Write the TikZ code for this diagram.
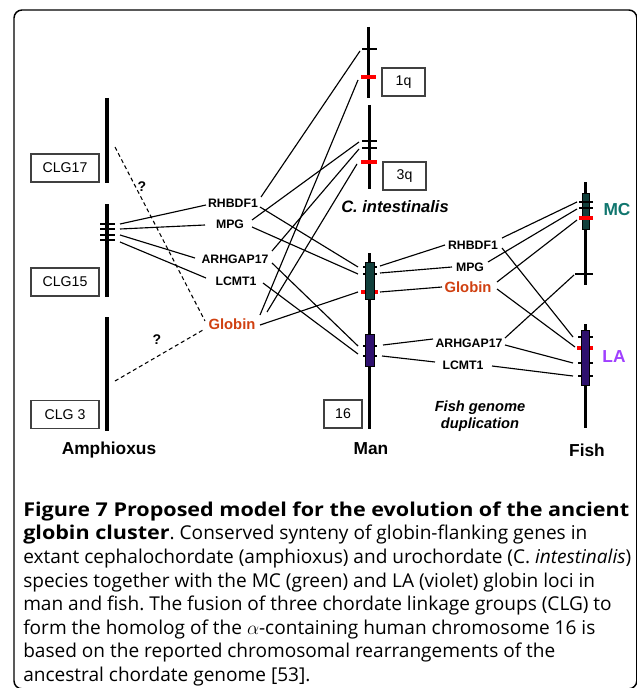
\documentclass[tikz,border=0pt]{standalone}
\usepackage{fontspec}
\setmainfont{Liberation Sans}
\newfontfamily\capfont{Open Sans}[BoldFeatures={FakeStretch=1.13}]
\definecolor{globred}{RGB}{208,64,16}
\definecolor{tickred}{RGB}{255,0,0}
\definecolor{mcbox}{RGB}{17,64,60}
\definecolor{labox}{RGB}{46,16,110}
\definecolor{mctext}{RGB}{16,118,110}
\definecolor{latext}{RGB}{160,64,255}
\frenchspacing
\begin{document}
\begin{tikzpicture}[x=0.75pt,y=-0.75pt,
  conn/.style={line width=0.85pt},
  dashconn/.style={line width=0.8pt, dash pattern=on 3pt off 2.2pt},
  thickchrom/.style={line width=2.6pt},
  chrom/.style={line width=2.25pt},
  blacktick/.style={line width=1.5pt},
  redtick/.style={line width=2.6pt, draw=tickred},
  gene/.style={font=\bfseries\fontsize{9.2}{11}\selectfont, inner sep=0pt},
  globin/.style={font=\bfseries\fontsize{11.1}{13}\selectfont, text=globred, inner sep=0pt},
  biglab/.style={font=\bfseries\fontsize{13}{15}\selectfont, inner sep=0pt},
  idbox/.style={draw=black!75, line width=0.9pt, minimum height=21pt, font=\fontsize{10.6}{12}\selectfont, inner sep=0pt},
  qmark/.style={font=\bfseries\fontsize{10.5}{12}\selectfont, inner sep=0pt},
  capline/.style={anchor=base west, inner sep=0pt, font=\capfont\fontsize{14.3}{17}\selectfont}
]
\useasboundingbox (0,0) rectangle (636,688);
% frame
\draw[line width=1.1pt, rounded corners=6pt] (14,10) rectangle (636.8,688.8);

% ---------------- Amphioxus ----------------
\draw[thickchrom] (107,98) -- (107,183);
\draw[thickchrom] (107,204) -- (107,297);
\draw[thickchrom] (107,317) -- (107,431);
\foreach \yy in {224,229,235,240} \draw[blacktick] (100,\yy) -- (115,\yy);
\node[idbox, minimum width=51pt] (clg17) at (65,168) {CLG17};
\node[idbox, minimum width=51pt] (clg15) at (65,282) {CLG15};
\node[idbox, minimum width=51pt] (clg3) at (65,414.5) {CLG 3};
\node[biglab] (amph) at (109,450) {Amphioxus};

% ---------------- C. intestinalis ----------------
\draw[chrom] (368,27) -- (368,98);
\draw[blacktick] (362,49) -- (377,49);
\draw[redtick] (361,77) -- (376,77);
\draw[chrom] (369,105) -- (369,189);
\draw[blacktick] (362,141) -- (377,141);
\draw[blacktick] (362,148) -- (377,148);
\draw[redtick] (361,162) -- (377,162);
\node[idbox, minimum width=32.25pt] (b1q) at (403.5,82) {1q};
\node[idbox, minimum width=32.25pt] (b3q) at (404.5,176) {3q};
\node[font=\bfseries\itshape\fontsize{12.4}{14}\selectfont, inner sep=0pt] (cint) at (395,207) {C. intestinalis};

% ---------------- Man ----------------
\draw[chrom] (369,253) -- (369,429);
\draw[redtick] (361,292) -- (378,292);
\draw[fill=mcbox, line width=0.75pt] (365,262) rectangle (374,299);
\draw[fill=labox, line width=0.75pt] (365,334) rectangle (374,366);
\draw[blacktick] (374,267) -- (377,267);
\draw[blacktick] (374,274) -- (377,274);
\draw[blacktick] (374,346) -- (377,346);
\draw[blacktick] (374,356) -- (377,356);
\draw[blacktick] (363,267) -- (365,267);
\draw[blacktick] (363,274) -- (365,274);
\draw[blacktick] (363,346) -- (365,346);
\draw[blacktick] (363,356) -- (365,356);
\node[idbox, minimum width=28.5pt] (b16) at (343,414) {16};
\node[biglab] (man) at (371,449) {Man};

% ---------------- Fish ----------------
\draw[chrom] (585,182) -- (585,285);
\draw[fill=mcbox, line width=0.75pt] (582,193) rectangle (589,229);
\draw[blacktick] (579,202) -- (593,202);
\draw[blacktick] (579,208) -- (593,208);
\draw[redtick] (579,218) -- (593,218);
\draw[blacktick] (575,274) -- (593,274);
\draw[chrom] (585,324) -- (585,428);
\draw[redtick] (577,348) -- (593,348);
\draw[fill=labox, line width=0.75pt] (581,330) rectangle (589,385);
\draw[blacktick] (589,337) -- (593,337);
\draw[blacktick] (589,363) -- (593,363);
\draw[blacktick] (589,376) -- (593,376);
\draw[blacktick] (578,337) -- (581,337);
\draw[blacktick] (578,363) -- (581,363);
\draw[blacktick] (578,376) -- (581,376);
\node[biglab, text=mctext] (mc) at (617,210) {MC};
\node[biglab, text=latext] (la) at (614,357) {LA};
\node[biglab] (fish) at (587,450) {Fish};
\node[font=\bfseries\itshape\fontsize{11}{12.75}\selectfont, align=center, inner sep=0pt] (fgd) at (480,416.5) {Fish genome\\duplication};

% ---------------- gene labels ----------------
\node[gene] (rhA) at (233,203) {RHBDF1};
\node[gene] (mpgA) at (230,224) {MPG};
\node[gene] (arhA) at (235,259) {ARHGAP17};
\node[gene] (lcmA) at (236,281) {LCMT1};
\node[globin] (glA) at (232,324) {Globin};
\node[gene] (rhF) at (473,245) {RHBDF1};
\node[gene] (mpgF) at (470,267) {MPG};
\node[globin] (glF) at (468,287) {Globin};
\node[gene] (arhF) at (469,343) {ARHGAP17};
\node[gene] (lcmF) at (463,365) {LCMT1};
\node[qmark] (q1) at (142,187) {?};
\node[qmark] (q2) at (157,340) {?};

% ---------------- connector end points ----------------
\coordinate (a1) at (120,224);
\coordinate (a2) at (120,229);
\coordinate (a3) at (120,235);
\coordinate (a4) at (120,242);
\coordinate (aq1) at (115,147);
\coordinate (aq2) at (115,381);
\coordinate (rhAw) at (206,205);
\coordinate (mpgAw) at (205,225);
\coordinate (arhAw) at (195,258);
\coordinate (lcmAw) at (206,278);
\coordinate (glAnw) at (205,321);
\coordinate (glAsw) at (203,330);
\coordinate (rhAne) at (261,197);
\coordinate (rhAse) at (260,207);
\coordinate (mpgAne) at (252,220);
\coordinate (mpgAse) at (252,227);
\coordinate (arhAne) at (272,251);
\coordinate (arhAse) at (272,263);
\coordinate (lcmAe) at (263,283);
\coordinate (glAne1) at (260,315);
\coordinate (glAne2) at (267,312);
\coordinate (glAe) at (260,325);
\coordinate (q1b) at (360,51);
\coordinate (q1r) at (358,80);
\coordinate (q3b1) at (359,142);
\coordinate (q3b2) at (359,149);
\coordinate (q3r) at (357,164);
\coordinate (m1l) at (358,267);
\coordinate (m2l) at (358,274);
\coordinate (mrl) at (358,292);
\coordinate (mp1l) at (358,346);
\coordinate (mp2l) at (358,354);
\coordinate (m1r) at (380,266);
\coordinate (m2r) at (380,273);
\coordinate (mrr) at (380,292);
\coordinate (mp1r) at (383,345);
\coordinate (mp2r) at (382,356);
\coordinate (rhFw) at (445,245);
\coordinate (mpgFw) at (452,267);
\coordinate (glFw) at (442,287);
\coordinate (arhFw) at (433,339);
\coordinate (lcmFw) at (435,362);
\coordinate (rhFne) at (502,238);
\coordinate (rhFse) at (502,248);
\coordinate (mpgFe) at (488,262);
\coordinate (glFne) at (497,282);
\coordinate (glFse) at (497,289);
\coordinate (arhFne) at (505,338);
\coordinate (arhFse) at (505,345);
\coordinate (lcmFe) at (492,366);
\coordinate (mc1) at (577,202);
\coordinate (mc2) at (577,209);
\coordinate (mcr) at (577,220);
\coordinate (mc3) at (574,275);
\coordinate (la1) at (573,337);
\coordinate (lar) at (575,347);
\coordinate (la3) at (573,363);
\coordinate (la4) at (573,376);

% ---------------- connectors ----------------
\draw[conn] (a1) -- (rhAw);
\draw[conn] (a2) -- (mpgAw);
\draw[conn] (a3) -- (arhAw);
\draw[conn] (a4) -- (lcmAw);
\draw[dashconn] (aq1) -- (glAnw);
\draw[dashconn] (aq2) -- (glAsw);
\draw[conn] (rhAne) -- (q1b);
\draw[conn] (mpgAne) -- (q3b1);
\draw[conn] (arhAne) -- (q3b2);
\draw[conn] (glAne1) -- (q1r);
\draw[conn] (glAne2) -- (q3r);
\draw[conn] (rhAse) -- (m1l);
\draw[conn] (mpgAse) -- (m2l);
\draw[conn] (glAe) -- (mrl);
\draw[conn] (arhAse) -- (mp1l);
\draw[conn] (lcmAe) -- (mp2l);
\draw[conn] (m1r) -- (rhFw);
\draw[conn] (m2r) -- (mpgFw);
\draw[conn] (mrr) -- (glFw);
\draw[conn] (mp1r) -- (arhFw);
\draw[conn] (mp2r) -- (lcmFw);
\draw[conn] (rhFne) -- (mc1);
\draw[conn] (rhFse) -- (la1);
\draw[conn] (mpgFe) -- (mc2);
\draw[conn] (glFne) -- (mcr);
\draw[conn] (glFse) -- (lar);
\draw[conn] (arhFne) -- (mc3);
\draw[conn] (arhFse) -- (la3);
\draw[conn] (lcmFe) -- (la4);

% ---------------- caption ----------------
\node[capline] (c1) at (23,516) {\bfseries Figure 7 Proposed model for the evolution of the ancient};
\node[capline] (c2) at (23,539.5) {\textbf{globin cluster}. Conserved synteny of globin-flanking genes in};
\node[capline] (c3) at (23,563) {extant cephalochordate (amphioxus) and urochordate (C. \textit{intestinalis})};
\node[capline] (c4) at (23,587) {species together with the MC (green) and LA (violet) globin loci in};
\node[capline] (c5) at (23,610.5) {man and fish. The fusion of three chordate linkage groups (CLG) to};
\node[capline] (c6) at (23,634) {form the homolog of the $\alpha$-containing human chromosome 16 is};
\node[capline] (c7) at (23,657.5) {based on the reported chromosomal rearrangements of the};
\node[capline] (c8) at (23,681) {ancestral chordate genome [53].};
\end{tikzpicture}
\end{document}
